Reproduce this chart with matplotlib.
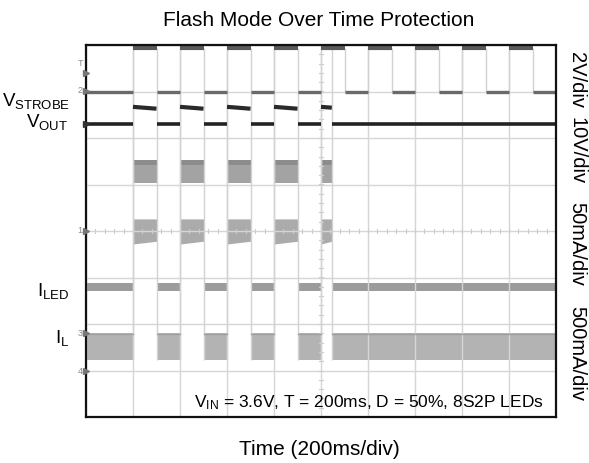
import matplotlib
matplotlib.use("Agg")
import matplotlib.pyplot as plt
import numpy as np

plt.rcParams['font.family'] = ['Liberation Sans', 'DejaVu Sans']
plt.rcParams['mathtext.default'] = 'regular'

# time axis: 10 div x 200 ms
t_end = 2000
strobe_rise = [200, 400, 600, 800, 1000, 1200, 1400, 1600, 1800]
strobe_fall = [300, 500, 700, 900, 1100, 1300, 1500, 1700, 1900]
flash_start = [200, 400, 600, 800, 1000]
flash_stop = [300, 500, 700, 900, 1046]

# levels in divisions from screen centre
strobe_lo, strobe_hi = 3.0, 3.93
vout_lo = 2.30
vout_hi = (2.67, 2.63)          # slight droop over each flash pulse
band_a = (1.03, 1.53)
band_b = (-0.28, 0.26)
iled_band = (-1.29, -1.12)
il_band = (-2.77, -2.19)

right_labels = ['2V/div', '10V/div', '50mA/div', '500mA/div']
right_label_y = [80, 151, 244, 354]   # px

W, H = 589, 463
fig = plt.figure(figsize=(W / 100, H / 100), dpi=100)
ax = fig.add_axes([86 / W, 1 - 417 / H, 470 / W, 372 / H])
ax.set_xlim(0, t_end)
ax.set_ylim(-4, 4)
ax.set_xticks(np.arange(0, t_end + 1, 200))
ax.set_yticks(np.arange(-4, 5, 1))
ax.tick_params(length=0, labelbottom=False, labelleft=False)
ax.grid(True, color='#d6d6d6', lw=1)
for s in ax.spines.values():
    s.set_linewidth(1.6)
    s.set_color('#111111')

# minor ticks on centre lines
for x in np.arange(0, t_end, 40):
    ax.plot([x, x], [-0.05, 0.05], color='#cccccc', lw=0.8)
for y in np.arange(-4, 4, 0.2):
    ax.plot([990, 1010], [y, y], color='#cccccc', lw=0.8)

# gaps in continuous traces (off during flash pulses)
def on_segments(starts, stops):
    segs = []
    prev = 0
    for a, b in zip(starts, stops):
        segs.append((prev, a))
        prev = b
    segs.append((prev, t_end))
    return segs

# transitions
ax.vlines(flash_start + flash_stop, il_band[0], strobe_hi, color='#d2d2d2', lw=1)
ax.vlines(strobe_rise[5:] + strobe_fall[4:], strobe_lo, strobe_hi, color='#d2d2d2', lw=1)

# pulse bands during flash
for a, b in zip(flash_start, flash_stop):
    ax.fill_between([a, b], band_a[0], band_a[1], color='#a3a3a3', lw=0)
    ax.fill_between([a, b], band_a[1] - 0.12, band_a[1], color='#8c8c8c', lw=0)
    ax.fill_between([a, b], [band_b[0], band_b[0] + 0.06], band_b[1], color='#ababab', lw=0)

# ILED and IL bands
for a, b in on_segments(flash_start, flash_stop):
    ax.fill_between([a, b], iled_band[0], iled_band[1], color='#9c9c9c', lw=0)
    ax.fill_between([a, b], il_band[0], il_band[1], color='#b3b3b3', lw=0)
    ax.plot([a, b], [il_band[1] - 0.03] * 2, color='#a0a0a0', lw=1)

# VSTROBE
hi_segs = list(zip(strobe_rise, strobe_fall))
lo_segs = list(zip([0] + strobe_fall, strobe_rise + [t_end]))
for a, b in hi_segs:
    ax.plot([a, b], [strobe_hi, strobe_hi], color='#5a5a5a', lw=3, solid_capstyle='butt')
for a, b in lo_segs:
    ax.plot([a, b], [strobe_lo, strobe_lo], color='#6a6a6a', lw=2.4, solid_capstyle='butt')

# VOUT
for a, b in on_segments(flash_start, flash_stop):
    ax.plot([a, b], [vout_lo, vout_lo], color='#222222', lw=2.6, solid_capstyle='butt')
for a, b in zip(flash_start, flash_stop):
    ax.plot([a, b], [vout_hi[0], vout_hi[0] + (vout_hi[1] - vout_hi[0]) * (b - a) / 100],
            color='#2a2a2a', lw=3, solid_capstyle='butt')

ax.text(0.975, 0.013, r'$V_{IN}$ = 3.6V, T = 200ms, D = 50%, 8S2P LEDs',
        transform=ax.transAxes, ha='right', va='bottom', fontsize=12.5)

def fx(x):
    return x / W

def fy(y):
    return 1 - y / H

fig.text(fx(319), fy(26), 'Flash Mode Over Time Protection', ha='center', va='baseline', fontsize=15)
fig.text(fx(319), fy(455), 'Time (200ms/div)', ha='center', va='baseline', fontsize=15)

for lab, y in zip(right_labels, right_label_y):
    fig.text(fx(577), fy(y), lab, rotation=270, ha='center', va='center', fontsize=14.5)

left_labels = [(r'$V_{STROBE}$', 70, 106), (r'$V_{OUT}$', 68, 127),
               (r'$I_{LED}$', 69, 296), (r'$I_{L}$', 69, 343)]
for lab, x, y in left_labels:
    fig.text(fx(x), fy(y), lab, ha='right', va='baseline', fontsize=13.5)

# channel markers
markers = [('T', 63), ('2', 91), ('1', 231), ('3', 333), ('4', 371)]
for lab, y in markers:
    fig.text(fx(80), fy(y), lab, ha='center', va='center', fontsize=6.5, color='#888888')
    fig.lines.append(plt.Line2D([fx(86)], [fy(y if lab != 'T' else 73)], transform=fig.transFigure,
                                color='#777777', marker='>', markersize=4, lw=0))
fig.lines.append(plt.Line2D([fx(86)], [fy(124)], transform=fig.transFigure,
                            color='#333333', marker='>', markersize=4, lw=0))

fig.savefig('out.png', dpi=100)
